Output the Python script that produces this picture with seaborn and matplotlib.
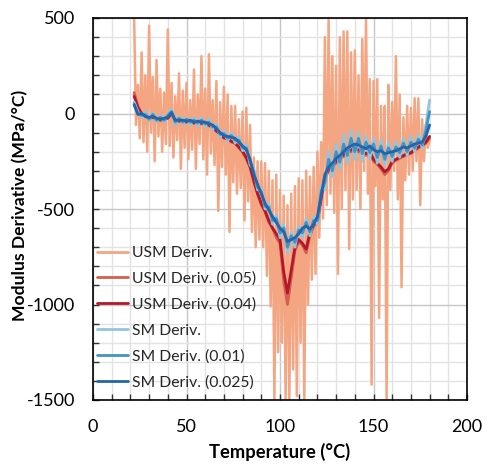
import numpy as np
import pandas as pd
import matplotlib
matplotlib.use("Agg")
import matplotlib.pyplot as plt
import seaborn as sns
from matplotlib.ticker import MultipleLocator

# ---------------- data ----------------
temp_raw = np.arange(22, 181, 1)          # 1 degC grid for the raw derivative
temp_s = np.arange(22, 181, 2)            # 2 degC grid for the filtered curves

usm_raw = [500, -60, 150, -130, 320, -150, 200, -200, 460, -100,
           190, -250, 280, -120, 130, -200, 110, -160, 440, -170,
           160, -230, 90, -140, 210, -290, 120, -180, 160, -240,
           70, -190, 230, -290, 100, -160, 300, -240, 130, -320,
           310, -210, 70, -270, 170, -510, 60, -280, 140, -320,
           100, -620, 40, -360, 40, -420, -30, -390, 10, -560,
           30, -460, -60, -620, -230, -700, -250, -660, -250, -700,
           -260, -850, -300, -1010, -350, -1500, -320, -1250, -400, -1200,
           -430, -1500, -480, -1500, -420, -1340, -380, -1480, -340, -1200,
           -350, -1500, -300, -1000, -330, -870, -280, -840, -200, -650,
           -150, -550, 400, -480, 490, -420, 300, -520, 250, -840,
           400, -500, 430, -400, 430, -710, 320, -450, 330, -400,
           200, -500, 390, -300, 500, -420, 180, -1420, 170, -380,
           180, -1070, 40, -450, 40, -1500, 150, -400, 60, -300,
           300, -450, 100, -910, -20, -350, 40, -320, 30, -300,
           80, -250, 80, -480, -30, -250, -60, -180, -140]

usm_005 = [110, 40, -5, -10, -30, -15, -35, -30, -35, -20,
           10, -45, -35, -45, -40, -45, -50, -45, -55, -50,
           -65, -70, -95, -105, -130, -130, -150, -155, -180, -200,
           -240, -280, -360, -420, -480, -515, -570, -600, -650, -680,
           -880, -1000, -860, -720, -670, -690, -730, -640, -590, -570,
           -450, -340, -300, -275, -260, -235, -225, -205, -200, -185,
           -200, -205, -220, -205, -250, -265, -290, -320, -300, -260,
           -245, -235, -225, -215, -210, -195, -180, -170, -155, -130]

usm_004 = [90, 30, 0, -15, -25, -20, -30, -35, -30, -25,
           0, -40, -40, -40, -45, -40, -50, -45, -50, -50,
           -60, -70, -90, -110, -125, -135, -145, -155, -175, -200,
           -230, -280, -350, -420, -470, -510, -560, -600, -630, -660,
           -830, -940, -820, -700, -660, -680, -710, -620, -580, -560,
           -440, -330, -290, -270, -250, -230, -215, -200, -190, -185,
           -190, -200, -210, -200, -240, -260, -280, -305, -290, -250,
           -240, -230, -220, -210, -205, -190, -175, -165, -150, -120]

sm_raw = [60, 10, -20, 10, -40, 5, -45, -10, -45, 0,
          20, -60, -15, -55, -20, -60, -20, -65, -20, -70,
          -30, -85, -55, -125, -90, -145, -100, -155, -120, -195,
          -160, -270, -290, -400, -390, -500, -470, -580, -530, -650,
          -580, -730, -620, -700, -590, -650, -550, -640, -540, -580,
          -380, -400, -200, -330, -160, -290, -110, -260, -90, -240,
          -100, -250, -120, -240, -130, -260, -140, -270, -150, -250,
          -150, -230, -130, -220, -120, -200, -110, -180, -60, 70]

sm_001 = [50, 0, -10, -5, -30, -5, -35, -20, -35, -10,
          10, -45, -25, -45, -30, -45, -35, -50, -35, -55,
          -45, -70, -70, -110, -105, -130, -115, -140, -140, -180,
          -180, -250, -310, -385, -410, -485, -490, -560, -550, -625,
          -600, -700, -640, -675, -610, -625, -570, -620, -560, -560,
          -410, -360, -240, -300, -200, -255, -160, -220, -130, -200,
          -130, -210, -150, -205, -160, -230, -170, -240, -180, -225,
          -175, -205, -155, -200, -150, -180, -135, -165, -90, 10]

sm_0025 = [45, -5, 0, -15, -20, -15, -25, -30, -25, -20,
           5, -35, -35, -35, -40, -35, -45, -40, -45, -45,
           -55, -60, -80, -100, -115, -120, -125, -130, -150, -170,
           -190, -240, -320, -370, -420, -470, -505, -540, -570, -600,
           -620, -670, -660, -650, -630, -600, -590, -605, -580, -540,
           -430, -320, -280, -260, -235, -220, -200, -180, -170, -160,
           -165, -175, -185, -170, -190, -200, -195, -210, -205, -200,
           -195, -185, -175, -180, -170, -160, -155, -150, -120, -60]

labels = ["USM Deriv.", "USM Deriv. (0.05)", "USM Deriv. (0.04)",
          "SM Deriv.", "SM Deriv. (0.01)", "SM Deriv. (0.025)"]
colors = ["#F4A582", "#D6604D", "#B2182B", "#92C5DE", "#4393C3", "#2166AC"]

x_ticks = [0, 50, 100, 150, 200]
y_ticks = [-1500, -1000, -500, 0, 500]

# ---------------- style ----------------
sns.set_theme(style="white")
plt.rcParams['font.family'] = ['Lato', 'DejaVu Sans']
plt.rcParams['axes.unicode_minus'] = False

fig = plt.figure(figsize=(4.95, 4.72), dpi=100)
ax = fig.add_axes([93 / 495, 1 - 400 / 472, 374 / 495, 382 / 472])

series = [
    (temp_raw, usm_raw, 1.8),
    (temp_s, usm_005, 2.0),
    (temp_s, usm_004, 2.0),
    (temp_s, sm_raw, 2.0),
    (temp_s, sm_001, 2.0),
    (temp_s, sm_0025, 2.0),
]
for (xs, ys, lw), lab, col in zip(series, labels, colors):
    sns.lineplot(x=xs, y=ys, ax=ax, color=col, linewidth=lw, label=lab,
                 estimator=None, sort=False)

ax.set_xlim(0, 200)
ax.set_ylim(-1500, 500)
ax.set_xticks(x_ticks)
ax.set_yticks(y_ticks)
ax.xaxis.set_minor_locator(MultipleLocator(10))
ax.yaxis.set_minor_locator(MultipleLocator(100))

ax.grid(which='major', color='#C6C6C6', linewidth=1.0, zorder=0)
ax.grid(which='minor', color='#E3E3E3', linewidth=1.0, zorder=0)
ax.set_axisbelow(True)

for s in ax.spines.values():
    s.set_color('black')
    s.set_linewidth(1.2)
    s.set_visible(True)

ax.tick_params(which='both', direction='in', color='#333333', width=1.0,
               length=4, left=True, bottom=True, top=False, right=False)
ax.tick_params(axis='x', which='major', labelsize=13, pad=14, labelcolor='black')
ax.tick_params(axis='y', which='major', labelsize=13, pad=13, labelcolor='black')

ax.set_xlabel("Temperature (°C)", fontsize=13.2, fontweight='bold', color='black')
ax.set_ylabel("Modulus Derivative (MPa/°C)", fontsize=12.6, fontweight='bold', color='black')
ax.xaxis.set_label_coords(0.5, (400 - 443) / 382)
ax.yaxis.set_label_coords((28 - 93) / 374, 0.51)

leg = ax.legend(loc='upper left', bbox_to_anchor=(97 / 495, 1 - 246 / 472),
                bbox_transform=fig.transFigure, frameon=False, fontsize=11.3,
                handlelength=2.0, handletextpad=0.2, labelspacing=0.74,
                borderpad=0, borderaxespad=0)
for h in leg.get_lines():
    h.set_linewidth(2.0)

fig.savefig("out.png", dpi=100)
